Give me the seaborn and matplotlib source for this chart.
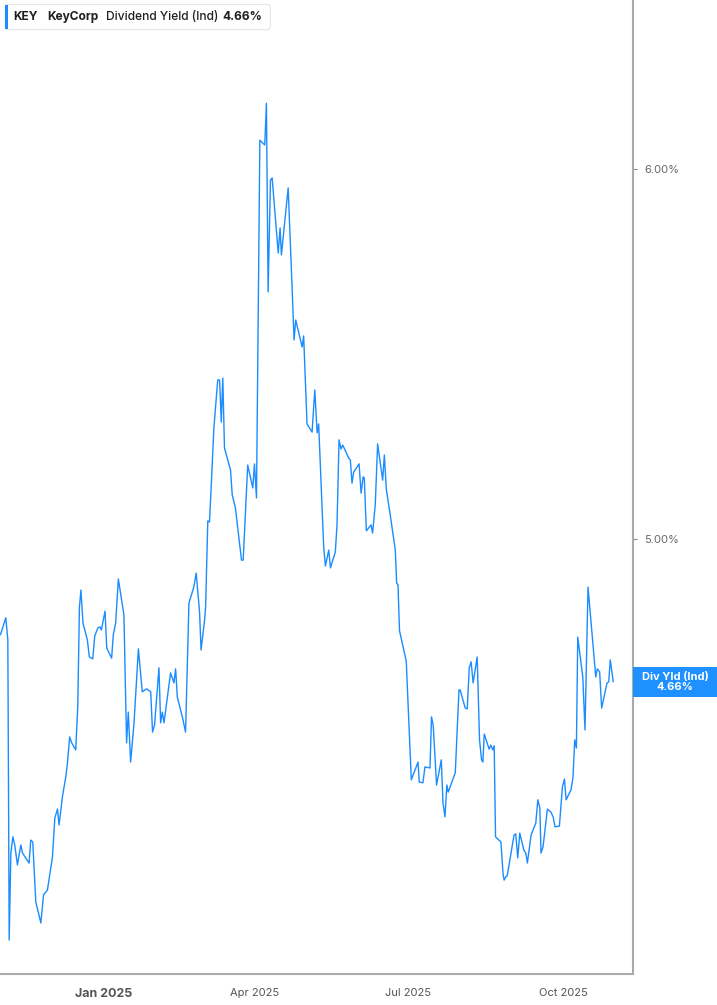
"""
KeyCorp (KEY) indicated dividend yield, Nov 2024 - Oct 2025.
Single line chart with right-hand y axis and a last-value tag.
"""

import numpy as np
import pandas as pd
import matplotlib
matplotlib.use("Agg")
import matplotlib.pyplot as plt
import matplotlib.dates as mdates
import matplotlib.transforms as mtransforms
from matplotlib.patches import FancyBboxPatch, Rectangle
import seaborn as sns

START = pd.Timestamp("2024-11-01")
LINE_COLOR = "#1a8cff"
GREY = "#666666"

# days after START for each reading
days = [
    0.0, 3.2, 4.4, 5.2, 6.2, 7.4, 8.5, 10.1, 12.1, 13.1, 17.0, 18.0, 19.2, 21.0, 24.0,
    25.6, 27.9, 30.9, 32.3, 33.9, 34.8, 36.8, 38.8, 39.8, 41.1, 42.3, 44.7, 45.9, 46.9,
    47.8, 49.0, 51.6, 52.8, 54.8, 56.0, 57.9, 59.1, 59.9, 62.1, 63.1, 66.0, 67.0, 68.4,
    70.0, 73.3, 74.9, 75.9, 77.3, 79.3, 81.9, 84.2, 86.8, 89.2, 90.3, 91.5, 94.1, 95.1,
    96.1, 97.1, 101.0, 103.0, 104.0, 105.0, 108.0, 109.9, 111.9, 114.8, 116.2, 118.2,
    119.1, 121.2, 121.8, 123.1, 124.1, 125.3, 126.7, 129.0, 130.1, 131.1, 132.0, 133.0,
    136.6, 137.6, 139.5, 143.1, 144.1, 146.8, 149.8, 150.8, 152.0, 154.0, 156.9, 157.9,
    158.9, 160.3, 161.3, 164.9, 166.0, 166.8, 170.8, 173.2, 174.3, 175.3, 179.1, 180.0,
    182.0, 185.0, 186.6, 188.0, 188.9, 191.9, 192.9, 194.9, 195.9, 198.8, 199.8, 201.0,
    202.2, 203.2, 206.7, 207.7, 208.7, 209.7, 212.9, 214.1, 215.3, 216.0, 217.2, 220.0,
    220.9, 222.5, 223.9, 226.9, 227.9, 229.1, 231.4, 234.4, 235.2, 236.0, 236.9, 240.9,
    243.9, 247.9, 248.6, 250.8, 252.0, 255.0, 255.9, 256.9, 258.9, 261.7, 262.7, 263.9,
    265.0, 265.8, 270.0, 272.2, 272.9, 275.9, 277.1, 278.3, 279.4, 280.6, 283.0, 284.4,
    285.6, 286.4, 287.2, 290.1, 291.1, 292.3, 293.1, 293.9, 297.1, 298.4, 299.0, 300.0,
    300.8, 302.6, 304.9, 305.9, 307.1, 308.3, 310.7, 311.9, 312.8, 315.0, 317.8, 319.0,
    320.2, 320.9, 322.1, 324.7, 326.7, 328.1, 329.2, 331.8, 333.6, 334.8, 335.8, 338.7,
    339.9, 340.9, 341.9, 342.7, 345.7, 347.0, 348.8, 353.4, 354.3, 355.7, 356.9, 360.1,
    361.1, 362.0, 363.8,
]

# dividend yield, percent
yield_pct = [
    4.741, 4.787, 4.727, 3.916, 4.151, 4.195, 4.173, 4.119, 4.173, 4.151, 4.124, 4.186,
    4.181, 4.019, 3.962, 4.038, 4.051, 4.141, 4.246, 4.270, 4.227, 4.303, 4.357, 4.395,
    4.465, 4.449, 4.430, 4.546, 4.816, 4.862, 4.773, 4.727, 4.681, 4.676, 4.738, 4.760,
    4.762, 4.754, 4.805, 4.705, 4.678, 4.741, 4.773, 4.892, 4.795, 4.449, 4.532, 4.397,
    4.503, 4.703, 4.587, 4.595, 4.587, 4.478, 4.497, 4.652, 4.503, 4.532, 4.503, 4.638,
    4.611, 4.649, 4.573, 4.519, 4.478, 4.827, 4.870, 4.908, 4.803, 4.700, 4.781, 4.816,
    5.049, 5.046, 5.159, 5.300, 5.430, 5.430, 5.316, 5.435, 5.246, 5.186, 5.119, 5.084,
    4.943, 4.943, 5.200, 5.138, 5.203, 5.111, 6.078, 6.065, 6.178, 5.668, 5.970, 5.976,
    5.773, 5.841, 5.768, 5.949, 5.673, 5.538, 5.592, 5.519, 5.549, 5.311, 5.289, 5.403,
    5.287, 5.311, 4.978, 4.927, 4.970, 4.922, 4.965, 5.038, 5.268, 5.243, 5.254, 5.219,
    5.214, 5.151, 5.181, 5.203, 5.124, 5.168, 5.165, 5.022, 5.038, 5.016, 5.092, 5.257,
    5.159, 5.227, 5.133, 5.065, 4.970, 4.881, 4.876, 4.752, 4.670, 4.349, 4.397, 4.343,
    4.341, 4.384, 4.381, 4.519, 4.497, 4.335, 4.403, 4.287, 4.249, 4.335, 4.316, 4.368,
    4.592, 4.592, 4.543, 4.541, 4.652, 4.668, 4.611, 4.681, 4.457, 4.403, 4.397, 4.473,
    4.432, 4.443, 4.430, 4.441, 4.195, 4.181, 4.092, 4.078, 4.087, 4.089, 4.138, 4.200,
    4.203, 4.138, 4.205, 4.159, 4.151, 4.124, 4.200, 4.232, 4.295, 4.273, 4.151, 4.168,
    4.270, 4.262, 4.249, 4.222, 4.224, 4.330, 4.351, 4.295, 4.322, 4.357, 4.457, 4.435,
    4.735, 4.627, 4.484, 4.870, 4.627, 4.649, 4.641, 4.543, 4.611, 4.614, 4.673, 4.614,
]

tick_dates = ["2025-01-01", "2025-04-01", "2025-07-01", "2025-10-01"]
tick_labels = ["Jan 2025", "Apr 2025", "Jul 2025", "Oct 2025"]
y_ticks = [5.0, 6.0]
legend_parts = [("KEY", "bold"), ("KeyCorp", "bold"),
                ("Dividend Yield (Ind)", "medium"), ("4.66%", "bold")]
tag_text = "Div Yld (Ind)\n4.66%"


def build_frame():
    df = pd.DataFrame({
        "date": START + pd.to_timedelta(days, unit="D"),
        "yield": yield_pct,
    })
    return df


def style_axes(ax):
    ax.set_xlim(START - pd.Timedelta(hours=6), START + pd.Timedelta(days=375.5))
    ax.set_ylim(3.824, 6.457)

    for side in ["top", "left"]:
        ax.spines[side].set_visible(False)
    for side in ["right", "bottom"]:
        ax.spines[side].set_color("#aaaaaa")
        ax.spines[side].set_linewidth(1.5)

    ax.yaxis.tick_right()
    ax.set_yticks(y_ticks)
    ax.set_yticklabels([f"{v:.2f}%" for v in y_ticks])
    ax.tick_params(axis="y", length=3, width=0.8, color="#888888", pad=5,
                   labelsize=8, labelcolor=GREY)

    ax.set_xticks(pd.to_datetime(tick_dates))
    ax.set_xticklabels(tick_labels)
    ax.tick_params(axis="x", length=4, width=0.8, color="#888888", pad=6,
                   labelsize=8, labelcolor="#555555")
    first = ax.get_xticklabels()[0]
    first.set_fontweight("bold")
    first.set_fontsize(9)

    ax.set_xlabel("")
    ax.set_ylabel("")
    ax.grid(False)


def draw_header(ax):
    box = FancyBboxPatch((0.0085, 0.9695), 0.4185, 0.026,
                         boxstyle="round,pad=0,rounding_size=0.004",
                         transform=ax.transAxes, facecolor="white",
                         edgecolor="#e3e3e3", linewidth=0.8, clip_on=False, zorder=5)
    ax.add_patch(box)
    bar = Rectangle((0.0085, 0.9705), 0.004, 0.024, transform=ax.transAxes,
                    facecolor=LINE_COLOR, edgecolor="none", clip_on=False, zorder=6)
    ax.add_patch(bar)

    x_positions = [0.0205, 0.0742, 0.168, 0.352]
    for (txt, weight), x in zip(legend_parts, x_positions):
        ax.text(x, 0.9828, txt, transform=ax.transAxes, ha="left", va="center",
                fontsize=8.6, fontweight=weight, color="#1f1f1f", zorder=7)


def draw_tag(ax, last_value):
    trans = mtransforms.blended_transform_factory(ax.transAxes, ax.transData)
    h = 30 / 370
    tag = Rectangle((1.0, last_value - h / 2), 84 / 633, h, transform=trans,
                    facecolor="#1e90ff", edgecolor="none", clip_on=False, zorder=5)
    ax.add_patch(tag)
    ax.text(1.0 + 42 / 633, last_value, tag_text, transform=trans, ha="center",
            va="center", fontsize=8, fontweight="bold", color="white",
            linespacing=1.0, zorder=6)


def main():
    sns.set_theme(style="white")
    plt.rcParams["font.family"] = ["Inter", "DejaVu Sans"]

    df = build_frame()

    fig = plt.figure(figsize=(7.17, 10.05), dpi=100)
    ax = fig.add_axes([0.0, 0.0308, 633 / 717, 0.9692])

    sns.lineplot(data=df, x="date", y="yield", ax=ax, color=LINE_COLOR,
                 linewidth=1.0, estimator=None)

    style_axes(ax)
    draw_header(ax)
    draw_tag(ax, yield_pct[-1])

    fig.savefig("out.png", dpi=100)
    plt.close(fig)


if __name__ == "__main__":
    main()
